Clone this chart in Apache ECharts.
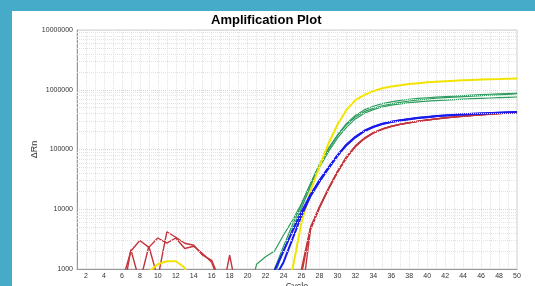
<!DOCTYPE html>
<html>
<head>
<meta charset="utf-8">
<script src="https://cdn.jsdelivr.net/npm/echarts@6/dist/echarts.min.js"></script>
<style>
  html, body { margin: 0; padding: 0; width: 535px; height: 286px; overflow: hidden; background: #45abc8; }
  #chart { position: absolute; left: 12px; top: 11px; width: 523px; height: 275px; background: #fff; }
</style>
</head>
<body>
<div id="chart"></div>
<script>
// cycle numbers
const cycles = [1, 2, 3, 4, 5, 6, 7, 8, 9, 10, 11, 12, 13, 14, 15, 16, 17, 18, 19, 20,
  21, 22, 23, 24, 25, 26, 27, 28, 29, 30, 31, 32, 33, 34, 35, 36, 37, 38, 39, 40,
  41, 42, 43, 44, 45, 46, 47, 48, 49, 50]

// log grid lines between the decades
const minorTicks = [2000, 3000, 4000, 5000, 6000, 7000, 8000, 9000,
  20000, 30000, 40000, 50000, 60000, 70000, 80000, 90000,
  200000, 300000, 400000, 500000, 600000, 700000, 800000, 900000,
  2000000, 3000000, 4000000, 5000000, 6000000, 7000000, 8000000, 9000000]

// ΔRn per cycle (values under 1000 fall below the plot)
const yellowA = [300, 300, 300, 300, 300, 300, 300, 300, 900, 1200, 1350, 1350, 1050, 300, 300, 300, 300, 300, 300, 300,
  300, 300, 300, 300, 1000, 6000, 20000, 52000, 125000, 260000, 460000, 670000, 820000, 950000, 1060000, 1130000, 1190000, 1250000, 1290000, 1330000,
  1360000, 1390000, 1420000, 1440000, 1460000, 1480000, 1500000, 1510000, 1530000, 1540000]
const greenA = [300, 300, 300, 300, 300, 300, 300, 300, 300, 300, 300, 300, 300, 300, 300, 300, 300, 300, 300, 300,
  300, 300, 1000, 2400, 5500, 12000, 27000, 57000, 105000, 175000, 270000, 370000, 460000, 530000, 585000, 628000, 665000, 693000, 715000, 735000,
  752000, 768000, 783000, 798000, 812000, 826000, 840000, 852000, 864000, 876000]
const greenB = [300, 300, 300, 300, 300, 300, 300, 300, 300, 300, 300, 300, 300, 300, 300, 300, 300, 300, 300, 300,
  300, 300, 800, 2000, 4700, 10500, 24000, 50000, 92000, 155000, 235000, 325000, 405000, 465000, 515000, 552000, 582000, 608000, 628000, 646000,
  660000, 673000, 685000, 697000, 708000, 718000, 728000, 738000, 747000, 756000]
const greenC = [300, 300, 300, 300, 300, 300, 300, 300, 300, 300, 300, 300, 300, 300, 300, 300, 300, 300, 300, 300,
  1200, 1600, 2000, 3700, 6500, 12500, 26500, 54000, 100000, 170000, 260000, 350000, 430000, 490000, 540000, 580000, 615000, 648000, 675000, 698000,
  720000, 737000, 753000, 768000, 782000, 796000, 810000, 823000, 836000, 860000]
const blueA = [300, 300, 300, 300, 300, 300, 300, 300, 300, 300, 300, 300, 300, 300, 300, 300, 300, 300, 300, 300,
  300, 300, 700, 1300, 3200, 7800, 16500, 29000, 48000, 78000, 118000, 160000, 203000, 238000, 266000, 288000, 306000, 322000, 336000, 348000,
  359000, 369000, 377000, 385000, 392000, 399000, 405000, 411000, 417000, 422000]
const blueB = [300, 300, 300, 300, 300, 300, 300, 300, 300, 300, 300, 300, 300, 300, 300, 300, 300, 300, 300, 300,
  300, 300, 950, 2000, 4300, 9000, 17500, 30500, 50000, 80000, 120000, 163000, 206000, 241000, 270000, 291000, 309000, 325000, 339000, 351000,
  362000, 372000, 380000, 388000, 395000, 402000, 408000, 414000, 420000, 425000]
const redA = [300, 300, 300, 300, 300, 600, 2000, 3000, 2300, 3300, 2700, 3300, 2200, 2400, 1800, 1300, 500, 300, 300, 300,
  300, 300, 300, 300, 300, 1000, 5000, 11000, 22500, 43000, 75000, 115000, 155000, 192000, 222000, 246000, 265000, 282000, 298000, 312000,
  326000, 339000, 351000, 362000, 372000, 382000, 392000, 400000, 410000, 418000]
const redB = [300, 300, 300, 300, 300, 300, 2100, 600, 2400, 700, 4200, 3400, 2700, 2500, 1700, 1400, 600, 300, 300, 300,
  300, 300, 300, 300, 300, 300, 4500, 10500, 21500, 41000, 72000, 111000, 151000, 188000, 218000, 243000, 263000, 280000, 296000, 310000,
  324000, 337000, 349000, 360000, 370000, 380000, 390000, 398000, 408000, 415000]
const redC = [300, 300, 300, 300, 300, 300, 300, 300, 300, 300, 300, 300, 300, 300, 300, 300, 300, 1700, 300, 300,
  300, 300, 300, 300, 300, 800, 4800, 10800, 22000, 42000, 73500, 113000, 153000, 190000, 220000, 244500, 264000, 281000, 297000, 311000,
  325000, 338000, 350000, 361000, 371000, 381000, 391000, 399000, 409000, 416000]

const chart = echarts.init(document.getElementById('chart'))

function line(name, values, color, width) {
  return {
    name: name,
    type: 'line',
    data: cycles.map((c, i) => [c, values[i]]),
    showSymbol: false,
    silent: true,
    lineStyle: { color: color, width: width },
    itemStyle: { color: color }
  }
}

const series = [
  line('red A', redA, '#c3343c', 1.4),
  line('red B', redB, '#c3343c', 1.4),
  line('red C', redC, '#c3343c', 1.4),
  line('green A', greenA, '#2e9b5f', 1.2),
  line('green B', greenB, '#2e9b5f', 1.2),
  line('green C', greenC, '#2e9b5f', 1.2),
  line('yellow A', yellowA, '#f2e400', 2),
  line('blue A', blueA, '#1a1aee', 2),
  line('blue B', blueB, '#1a1aee', 2)
]
// minor log grid drawn as marklines behind the curves
series[0].markLine = {
  silent: true,
  symbol: ['none', 'none'],
  label: { show: false },
  lineStyle: { type: 'dotted', color: '#e2e2e2', width: 1 },
  data: minorTicks.map(v => ({ yAxis: v }))
}

chart.setOption({
  animation: false,
  title: {
    text: 'Amplification Plot',
    left: 199,
    top: 3,
    padding: 0,
    textStyle: { fontFamily: 'Liberation Sans', fontSize: 13, fontWeight: 'bold', color: '#000' }
  },
  grid: {
    left: 65,
    right: 18,
    top: 19,
    bottom: 17,
    outerBoundsMode: 'none',
    containLabel: false,
    show: true,
    borderColor: '#d0d0d0',
    borderWidth: 1
  },
  xAxis: {
    type: 'value',
    min: 1,
    max: 50,
    interval: 1,
    name: 'Cycle',
    nameLocation: 'middle',
    nameGap: 13,
    nameMoveOverlap: false,
    nameTextStyle: { fontFamily: 'Liberation Sans', fontSize: 9, color: '#333' },
    axisLine: { lineStyle: { color: '#999' } },
    axisTick: { show: false },
    axisLabel: {
      fontFamily: 'Liberation Sans',
      fontSize: 7,
      color: '#333',
      margin: 4,
      formatter: v => (v % 2 === 0 ? String(v) : '')
    },
    splitLine: { show: true, lineStyle: { type: 'dotted', color: '#e2e2e2' } }
  },
  yAxis: {
    type: 'log',
    logBase: 10,
    min: 1000,
    max: 10000000,
    name: 'ΔRn',
    nameLocation: 'middle',
    nameGap: 38,
    nameMoveOverlap: false,
    nameTextStyle: { fontFamily: 'Liberation Sans', fontSize: 9, color: '#333' },
    axisLine: { show: true, lineStyle: { color: '#999' } },
    axisTick: { show: false },
    axisLabel: {
      fontFamily: 'Liberation Sans',
      fontSize: 7,
      color: '#333',
      margin: 4,
      formatter: v => String(Math.round(v))
    },
    splitLine: { show: true, lineStyle: { type: 'dotted', color: '#d4d4d4' } }
  },
  series: series
})
</script>
</body>
</html>
